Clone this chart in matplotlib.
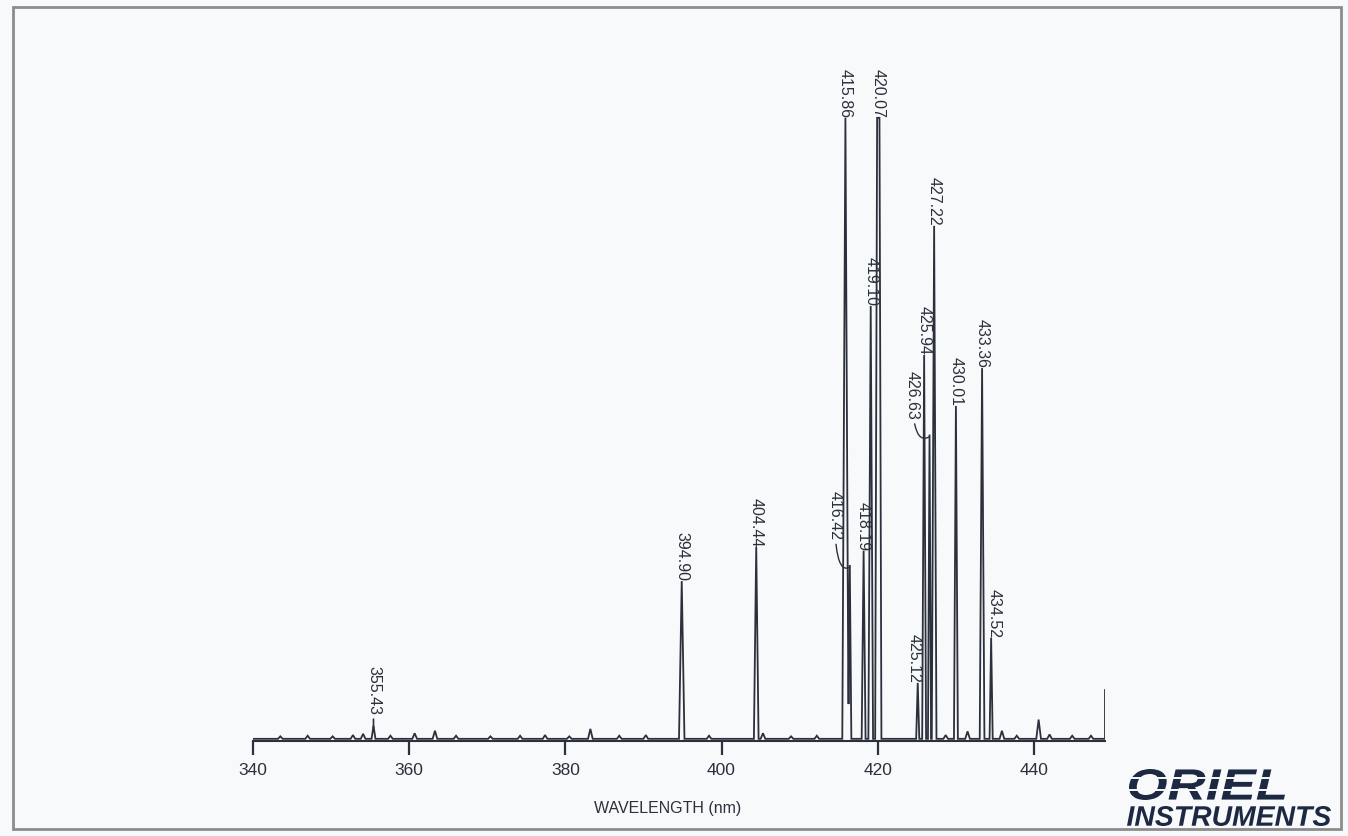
import numpy as np
import matplotlib
matplotlib.use('Agg')
import matplotlib.pyplot as plt
from matplotlib.textpath import TextPath
from matplotlib.patches import PathPatch, Rectangle
from matplotlib.font_manager import FontProperties
from matplotlib.transforms import Affine2D
from matplotlib.lines import Line2D

# labelled emission lines (nm) and relative intensity (% of strongest)
line_nm = [355.43, 394.90, 404.44, 415.86, 416.42, 418.19, 419.10, 420.07,
           425.12, 425.94, 426.63, 427.22, 430.01, 433.36, 434.52]
line_height = [2.1, 25.4, 30.9, 100.0, 28.0, 30.3, 69.7, 100.0,
               9.0, 61.8, 49.0, 82.6, 53.6, 59.7, 16.3]
line_halfwidth = [0.25, 0.35, 0.3, 0.4, 0.2, 0.25, 0.3, 0.4,
                  0.2, 0.25, 0.2, 0.3, 0.25, 0.3, 0.2]
line_flat = [0, 0, 0, 0, 0, 0, 0, 0.3, 0, 0, 0, 0, 0, 0, 0]

# small unlabelled bumps on the baseline
minor_nm = [343.5, 347.0, 350.2, 352.8, 354.1, 357.6, 360.7, 363.3, 366.0,
            370.4, 374.2, 377.4, 380.5, 383.2, 386.9, 390.3, 398.4, 405.3,
            408.9, 412.2, 428.7, 431.5, 435.9, 437.8, 440.6, 442.0, 444.9,
            447.3]
minor_height = [0.4, 0.5, 0.4, 0.6, 0.8, 0.5, 0.9, 1.3, 0.5,
                0.4, 0.5, 0.6, 0.4, 1.6, 0.5, 0.6, 0.5, 0.9,
                0.4, 0.5, 0.6, 1.2, 1.3, 0.5, 3.1, 0.7, 0.5,
                0.5]
minor_halfwidth = 0.3

end_nm = 449.1
end_height = 8.2
baseline = 0.35

# label offsets in pixels (dx, dy); some labels sit off the peak with a leader
label_offset = {355.43: (0, 13), 416.42: (-15, 27), 426.63: (-17, 17),
                425.12: (-4, 2), 434.52: (3, 2)}
hooked = [416.42, 426.63]

xticks = [340, 360, 380, 400, 420, 440]

W, H = 1348, 836
ink = '#2b303c'
bg = '#f7f9fa'

# piecewise-linear trace from peak list
shapes = []
for c, h, w, f in zip(line_nm, line_height, line_halfwidth, line_flat):
    shapes.append(([c - w, c - f / 2, c + f / 2, c + w], [0, h, h, 0]))
for c, h in zip(minor_nm, minor_height):
    shapes.append(([c - minor_halfwidth, c, c, c + minor_halfwidth], [0, h, h, 0]))
xs = np.array(sorted(set([340.0, end_nm] + [v for s in shapes for v in s[0]])))
ys = np.full_like(xs, baseline)
for sx, sy in shapes:
    ys += np.interp(xs, sx, sy, left=0, right=0)
xs = np.append(xs, end_nm)
ys = np.append(ys, end_height)

fig = plt.figure(figsize=(W / 100, H / 100), dpi=100, facecolor=bg)
ax = fig.add_axes([253 / W, (H - 741) / H, (1105 - 253) / W, (741 - 60) / H])
ax.set_facecolor('none')
ax.plot(xs, ys, color=ink, lw=1.3, solid_joinstyle='miter')
ax.set_xlim(340, end_nm)
ax.set_ylim(0, 681 / 621 * 100)

for s in ['top', 'right', 'left']:
    ax.spines[s].set_visible(False)
ax.spines['bottom'].set_color(ink)
ax.spines['bottom'].set_linewidth(1.5)
ax.set_yticks([])
ax.set_xticks(xticks)
ax.tick_params(axis='x', direction='out', length=10, width=1.6, color=ink,
               pad=6, labelsize=12.5, labelcolor=ink)
for t in ax.get_xticklabels():
    t.set_fontfamily('Liberation Sans')

# peak labels
for c, h in zip(line_nm, line_height):
    dx, dy = label_offset.get(c, (0, 2))
    arrow = None
    if c in hooked:
        arrow = dict(arrowstyle='-', color=ink, lw=1.0, shrinkA=1, shrinkB=0,
                     connectionstyle='angle3,angleA=90,angleB=30')
    elif dy > 5:
        arrow = dict(arrowstyle='-', color=ink, lw=1.2, shrinkA=1, shrinkB=0)
    ax.annotate('%.2f' % c, xy=(c, h), xytext=(dx * 0.72, dy * 0.72),
                textcoords='offset points', rotation=270, ha='center',
                va='bottom', fontsize=11.5, family='Liberation Sans',
                color=ink, arrowprops=arrow, annotation_clip=False)

fig.text(668 / W, 1 - 808 / H, 'WAVELENGTH (nm)', ha='center', va='center',
         fontsize=11.5, family='Liberation Sans', color=ink)

# border
fig.add_artist(Rectangle((13 / W, 1 - 829 / H), (1341 - 13) / W, (829 - 7) / H,
                         transform=fig.transFigure, fill=False,
                         ec='#8c8c8c', lw=2))


def fit_text(s, box, color):
    prop = FontProperties(family='Liberation Sans', weight='bold', style='italic')
    tp = TextPath((0, 0), s, prop=prop, size=100)
    ext = tp.get_extents()
    x0, y0, x1, y1 = box
    tr = (Affine2D().translate(-ext.x0, -ext.y0)
          .scale((x1 - x0) / ext.width / W, (y1 - y0) / ext.height / H)
          .translate(x0 / W, 1 - y1 / H) + fig.transFigure)
    fig.add_artist(PathPatch(tp, transform=tr, fc=color, ec='none'))


logo = '#1d2842'
fit_text('ORIEL', (1129, 769, 1285, 800), logo)
for frac in [0.3, 0.68]:
    yy = 1 - (769 + frac * 31) / H
    fig.add_artist(Line2D([1120 / W, 1295 / W], [yy, yy], transform=fig.transFigure,
                          color=bg, lw=1.4))
fit_text('INSTRUMENTS', (1127, 806, 1331, 826), logo)

fig.savefig('out.png', dpi=100, facecolor=bg)
